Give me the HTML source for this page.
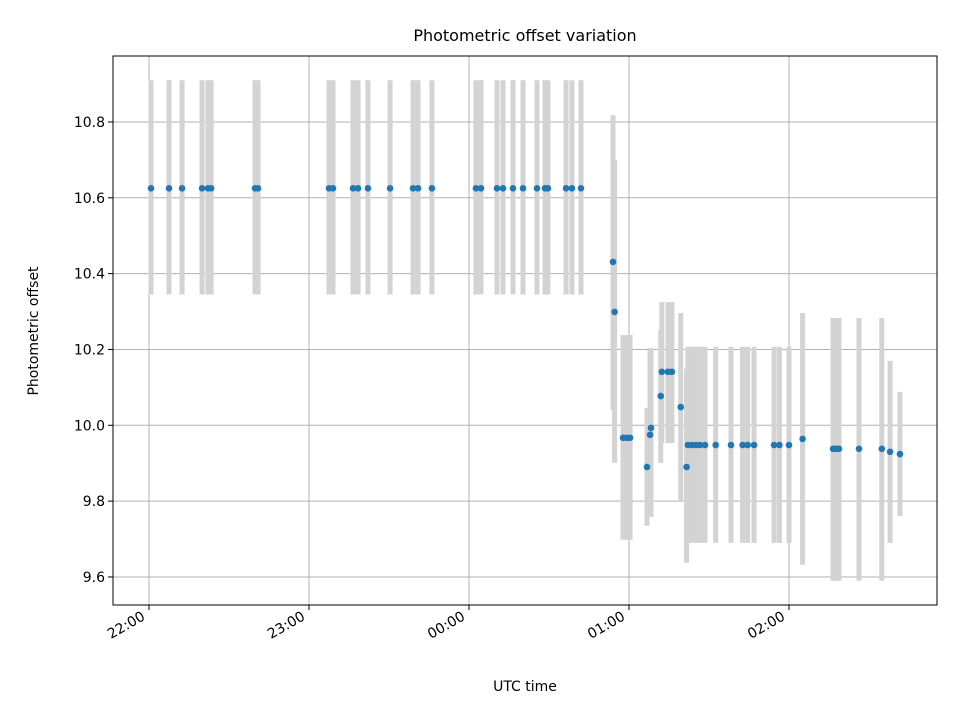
<!DOCTYPE html>
<html><head><meta charset="utf-8"><style>
html,body{margin:0;padding:0;background:#fff;}
svg{display:block;font-family:"DejaVu Sans","Liberation Sans",sans-serif;}
</style></head><body>
<svg id="chart" width="960" height="720" viewBox="0 0 960 720">
<rect x="0" y="0" width="960" height="720" fill="#fff"/>
<g id="grid"></g>
<g id="bars"></g>
<g id="points"></g>
<rect x="113" y="56" width="824" height="549" fill="none" stroke="#000" stroke-width="1"/>
<g id="axes"></g>
<text x="525" y="41" text-anchor="middle" font-size="16" fill="#000">Photometric offset variation</text>
<text x="525" y="691" text-anchor="middle" font-size="14" fill="#000">UTC time</text>
<text transform="translate(38,331) rotate(-90)" text-anchor="middle" font-size="14" fill="#000">Photometric offset</text>
</svg>
<script>
// minutes after 22:00 UTC
const times = [0.75,7.5,12.4,19.9,22.1,23.3,39.75,40.9,67.5,69,76.5,78.4,82.1,90.4,99,100.9,106.1,122.6,124.5,130.5,132.75,136.5,140.25,145.5,148.5,149.6,156.4,158.6,162,
174,174.6,177.75,179.25,180.4,186.75,187.9,188.25,191.9,192.3,194.6,196.1,199.4,201.6,202.1,203.6,205.1,206.6,208.5,212.5,218.25,222.6,224.5,226.9,234.4,236.4,240,245.1,256.5,257.6,258.75,266.25,274.8,277.9,281.6];
const values = [10.625,10.625,10.625,10.625,10.625,10.625,10.625,10.625,10.625,10.625,10.625,10.625,10.625,10.625,10.625,10.625,10.625,10.625,10.625,10.625,10.625,10.625,10.625,10.625,10.625,10.625,10.625,10.625,10.625,
10.431,10.299,9.967,9.967,9.967,9.890,9.975,9.993,10.077,10.141,10.141,10.141,10.048,9.890,9.948,9.948,9.948,9.948,9.948,9.948,9.948,9.948,9.948,9.948,9.948,9.948,9.948,9.964,9.938,9.938,9.938,9.938,9.938,9.930,9.924];
const errLow = [10.345,10.345,10.345,10.345,10.345,10.345,10.345,10.345,10.345,10.345,10.345,10.345,10.345,10.345,10.345,10.345,10.345,10.345,10.345,10.345,10.345,10.345,10.345,10.345,10.345,10.345,10.345,10.345,10.345,
10.040,9.901,9.698,9.698,9.698,9.735,9.758,9.758,9.901,9.953,9.953,9.953,9.800,9.637,9.690,9.690,9.690,9.690,9.690,9.690,9.690,9.690,9.690,9.690,9.690,9.690,9.690,9.632,9.590,9.590,9.590,9.590,9.590,9.690,9.761];
const errHigh = [10.91,10.91,10.91,10.91,10.91,10.91,10.91,10.91,10.91,10.91,10.91,10.91,10.91,10.91,10.91,10.91,10.91,10.91,10.91,10.91,10.91,10.91,10.91,10.91,10.91,10.91,10.91,10.91,10.91,
10.818,10.700,10.238,10.238,10.238,10.046,10.204,10.204,10.251,10.325,10.325,10.325,10.296,10.149,10.207,10.207,10.207,10.207,10.207,10.207,10.207,10.207,10.207,10.207,10.207,10.207,10.207,10.296,10.283,10.283,10.283,10.283,10.283,10.170,10.088];
const xTickMinutes = [0,60,120,180,240];
const xTickLabels = ["22:00","23:00","00:00","01:00","02:00"];
const yTicks = [9.6,9.8,10.0,10.2,10.4,10.6,10.8];
const yTickLabels = ["9.6","9.8","10.0","10.2","10.4","10.6","10.8"];

const NS="http://www.w3.org/2000/svg";
const X0=113,X1=937,Y0=56,Y1=605;
const tMin=-13.5,tMax=295.5,vMin=9.526,vMax=10.974;
function xs(t){return X0+(t-tMin)/(tMax-tMin)*(X1-X0);}
function ys(v){return Y1-(v-vMin)/(vMax-vMin)*(Y1-Y0);}
function mk(tag,attrs,parent){const e=document.createElementNS(NS,tag);for(const k in attrs)e.setAttribute(k,attrs[k]);parent.appendChild(e);return e;}
const grid=document.getElementById('grid'),axes=document.getElementById('axes'),bars=document.getElementById('bars'),pts=document.getElementById('points');
xTickMinutes.forEach((t,i)=>{
  const x=xs(t);
  const g=mk('line',{x1:x,x2:x,y1:Y0,y2:Y1,stroke:'#b0b0b0','stroke-width':1},grid);
  
  
  const tk=mk('line',{x1:x,x2:x,y1:Y1,y2:Y1+5,stroke:'#000','stroke-width':1},axes);
  
  
  const tx=mk('text',{transform:`translate(${x-3},${Y1+14}) rotate(-30)`,'text-anchor':'end','font-size':14,fill:'#000'},axes);
  tx.textContent=xTickLabels[i];
  
  
});
yTicks.forEach((v,i)=>{
  const y=ys(v);
  const g=mk('line',{x1:X0,x2:X1,y1:y,y2:y,stroke:'#b0b0b0','stroke-width':1},grid);
  
  
  const tk=mk('line',{x1:X0-5,x2:X0,y1:y,y2:y,stroke:'#000','stroke-width':1},axes);
  
  
  const tx=mk('text',{x:X0-8,y:y+5,'text-anchor':'end','font-size':14,fill:'#000'},axes);
  tx.textContent=yTickLabels[i];
  
  
});
times.forEach((t,i)=>{
  const x=xs(t);
  const b=mk('line',{x1:x,x2:x,y1:ys(errHigh[i]),y2:ys(errLow[i]),stroke:'#d3d3d3','stroke-width':5},bars);
  
  
});
times.forEach((t,i)=>{
  const c=mk('circle',{cx:xs(t),cy:ys(values[i]),r:3.3,fill:'#1f77b4'},pts);
  
  
});
</script>
</body></html>
